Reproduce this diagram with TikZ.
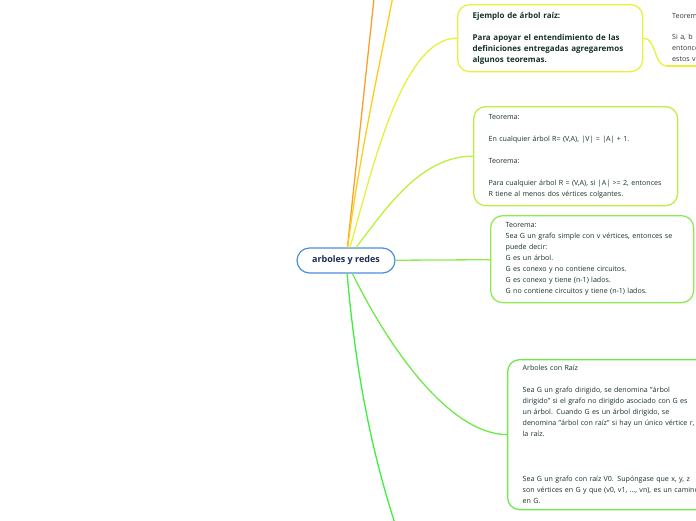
\documentclass[tikz,border=0pt]{standalone}
\usepackage{fontspec}
\setmainfont{Open Sans}
\usepackage{xcolor}
\usetikzlibrary{positioning}

\definecolor{cBlue}{HTML}{4A90D9}
\definecolor{cNavy}{HTML}{1E2D55}
\definecolor{cText}{HTML}{16302A}
\definecolor{cGray}{HTML}{333333}
\definecolor{cOrange}{HTML}{F7A12A}
\definecolor{cAmber}{HTML}{FFCC1A}
\definecolor{cYellow}{HTML}{E8F03A}
\definecolor{cLime}{HTML}{BCEF40}
\definecolor{cGreen}{HTML}{8EEA4E}
\definecolor{cGreenB}{HTML}{6EEA48}
\definecolor{cBright}{HTML}{3CF03C}

\begin{document}
\begin{tikzpicture}[x=1pt, y=-1pt,
    lk/.style={line width=1.3pt},
    topic/.style={draw, line width=1.3pt, rounded corners=12pt, anchor=north west,
        align=left, inner xsep=15pt, inner ysep=0pt, text=cText,
        font=\fontsize{7.1}{11}\selectfont}]
    \clip (0,0) rectangle (696,520);

    % central topic
    \node[draw=cBlue, line width=1.2pt, rounded corners=12.5pt, fill=white,
        minimum width=98pt, minimum height=25pt, inner sep=0pt, text=cNavy,
        font=\fontsize{9}{11}\selectfont\bfseries] (c) at (346,260.5) {arboles y redes};

    % subtopics
    \node[topic, draw=cYellow, minimum width=185pt, minimum height=67pt, text width=155pt,
        font=\fontsize{8}{11}\selectfont\bfseries] (n1) at (457,4)
        {Ejemplo de árbol raíz:\\[11pt]
         \mbox{Para apoyar el entendimiento de las}\\
         \mbox{definiciones entregadas agregaremos}\\
         algunos teoremas.};
    \node[topic, draw=cLime, minimum width=204pt, minimum height=99pt, text width=174pt] (n2) at (473,106)
        {Teorema:\\[11pt]
         En cualquier árbol R= (V,A), |V| = |A| + 1.\\[11pt]
         Teorema:\\[11pt]
         \mbox{Para cualquier árbol R = (V,A), si |A| >= 2, entonces}\\
         R tiene al menos dos vértices colgantes.};
    \node[topic, draw=cGreen, minimum width=203pt, minimum height=87pt, text width=173pt] (n3) at (490,215)
        {Teorema:\\
         \mbox{Sea G un grafo simple con v vértices, entonces se}\\
         puede decir:\\
         G es un árbol.\\
         G es conexo y no contiene circuitos.\\
         G es conexo y tiene (n-1) lados.\\
         \mbox{G no contiene circuitos y tiene (n-1) lados.}};
    \node[topic, draw=cGreenB, minimum width=220pt, minimum height=150pt, text width=190pt] (n4) at (507,359)
        {Arboles con Raíz\\[11pt]
         \mbox{Sea G un grafo dirigido, se denomina "árbol}\\
         \mbox{dirigido" si el grafo no dirigido asociado con G es}\\
         \mbox{un árbol. Cuando G es un árbol dirigido, se}\\
         \mbox{denomina "árbol con raíz" si hay un único vértice r,}\\
         la raíz.\\[34pt]
         \mbox{Sea G un grafo con raíz V0. Supóngase que x, y, z}\\
         \mbox{son vértices en G y que (v0, v1, ..., vn), es un camino}\\
         en G.};
    \node[anchor=south west, align=left, inner xsep=5pt, inner ysep=4pt, text width=60pt,
        text=cGray, font=\fontsize{7.1}{11}\selectfont] (n5) at (667,66)
        {Teorema:\\[10pt]
         Si a, b\\
         entonces\\
         estos v};

    % branches leaving the picture
    \coordinate (o1) at (376,-20);
    \coordinate (a1) at (396,-20);
    \coordinate (g1) at (402,545);

    % connectors
    \draw[lk, cOrange] (c) -- (o1);
    \draw[lk, cAmber] (c) .. controls (360,150) and (385,40) .. (a1);
    \draw[lk, cYellow] (c) .. controls (370,180) and (400,38) .. (n1.west);
    \draw[lk, cLime] (c) .. controls (385,210) and (420,156) .. (n2.west);
    \draw[lk, cGreen] (c) -- (n3);
    \draw[lk, cGreenB] (c) .. controls (390,350) and (450,434) .. (n4.west);
    \draw[lk, cBright] (c) .. controls (358,400) and (380,480) .. (g1);
    \draw[lk, cYellow] (n1.east) .. controls (657,38) and (653,66) .. (n5.south west);
    \draw[line width=2pt, cYellow] (n5.south west) -- (n5.south east);
\end{tikzpicture}
\end{document}
